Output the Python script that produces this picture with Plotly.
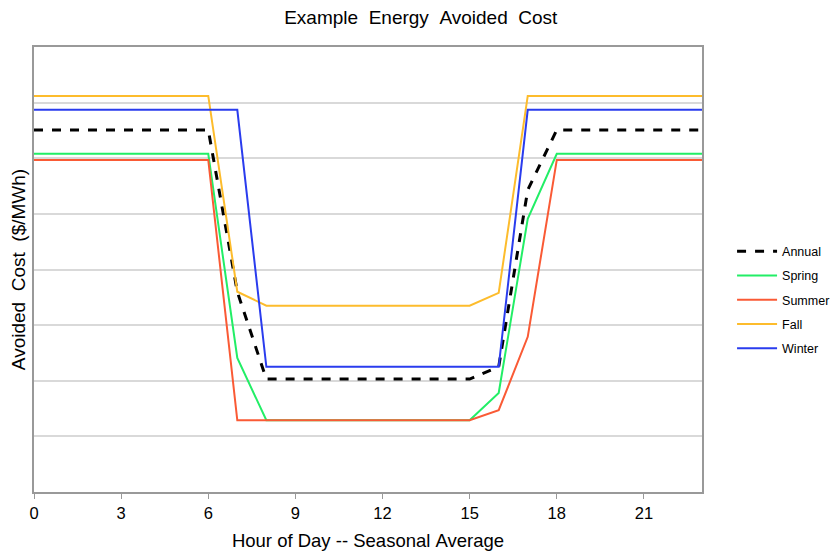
import plotly.graph_objects as go

hours = list(range(24))

annual = [65.1] * 7 + [36.0] + [20.3] * 8 + [22.5, 54.3] + [65.1] * 6
spring = [60.8] * 7 + [24.1] + [12.9] * 8 + [17.8, 49.1] + [60.8] * 6
summer = [59.7] * 7 + [12.9] * 9 + [14.7, 27.9] + [59.7] * 6
fall = [71.2] * 7 + [36.0] + [33.5] * 8 + [35.8] + [71.2] * 7
winter = [68.7] * 8 + [22.5] * 9 + [68.7] * 7

series = [
    ("Annual", annual, "black", 3, "dash"),
    ("Spring", spring, "#22EE66", 2, "solid"),
    ("Summer", summer, "#FA5A35", 2, "solid"),
    ("Fall", fall, "#FDBC2C", 2, "solid"),
    ("Winter", winter, "#2A3CEE", 2, "solid"),
]

fig = go.Figure()
for name, vals, color, width, dash in series:
    fig.add_trace(go.Scatter(
        x=hours, y=vals, name=name, mode="lines", legendgroup=name,
        line=dict(color=color, width=width, dash=dash),
    ))

sp = "\u00a0"
fig.update_layout(
    width=839, height=557,
    paper_bgcolor="white", plot_bgcolor="white",
    # page body adds an 8px offset; margins compensate
    margin=dict(l=26, r=137, t=39, b=73),
    font=dict(family="Liberation Sans, Arial, sans-serif", color="black", size=15),
    title=dict(text=f"Example{sp}{sp}Energy{sp}{sp}Avoided{sp}{sp}Cost", x=0.492, xref="container",
               xanchor="center", y=0.984, yanchor="middle", font=dict(size=19)),
    legend=dict(x=1.045, y=0.431, yanchor="middle", font=dict(size=12.5),
                tracegroupgap=5, itemwidth=40),
    showlegend=True,
)
fig.update_xaxes(
    range=[0, 23], tickvals=[0, 3, 6, 9, 12, 15, 18, 21],
    showline=True, linecolor="#999", linewidth=2, mirror=True,
    ticks="outside", ticklen=5, tickcolor="#999", showgrid=False, zeroline=False,
    title=dict(text=f"Hour of Day -- Seasonal{sp}Average", font=dict(size=18.5), standoff=13),
    tickfont=dict(size=16.5), automargin=False,
)
fig.update_yaxes(
    range=[0, 80], dtick=10, showticklabels=False,
    showline=True, linecolor="#999", linewidth=2, mirror=True,
    showgrid=True, gridcolor="#d9d9d9", gridwidth=1.5, zeroline=False,
    title=dict(text=f"Avoided{sp}{sp}Cost{sp}{sp}($/MWh)", font=dict(size=19), standoff=8),
    automargin=False,
)

fig.write_html("out.html")
